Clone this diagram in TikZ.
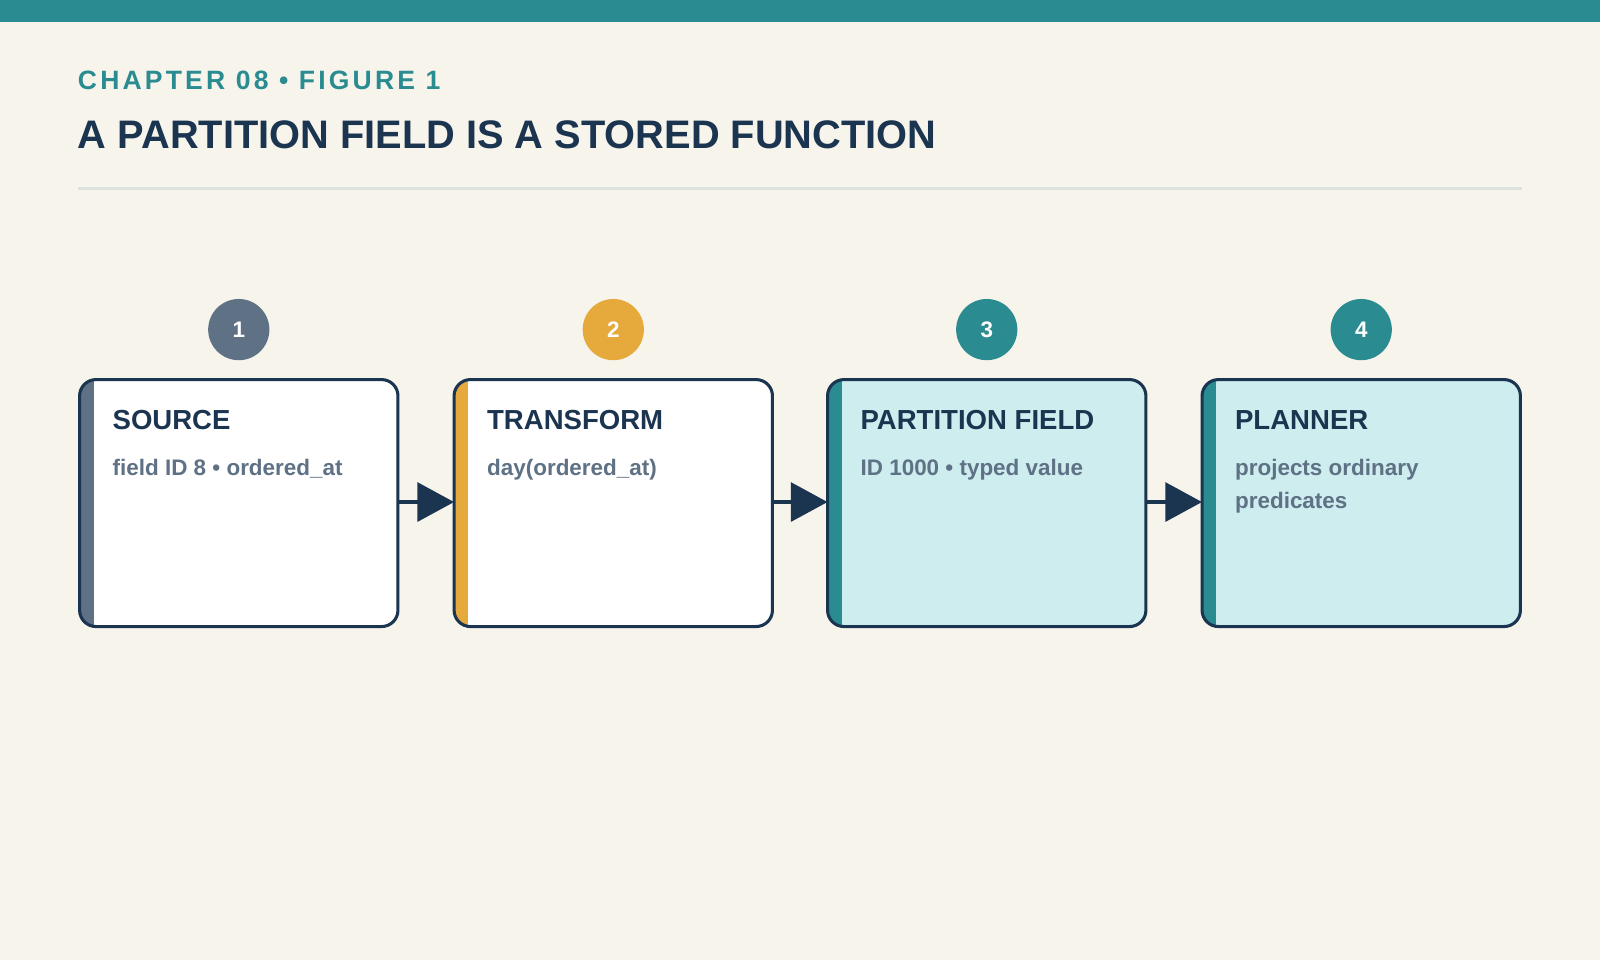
\documentclass[tikz,border=0pt]{standalone}
\usepackage{fontspec}
\setmainfont{Liberation Sans}
\usetikzlibrary{arrows.meta}
\definecolor{bg}{HTML}{F7F4EC}
\definecolor{teal}{HTML}{2A8C91}
\definecolor{navy}{HTML}{1B3550}
\definecolor{slate}{HTML}{5E7185}
\definecolor{amber}{HTML}{E6A93C}
\definecolor{pale}{HTML}{CDEDEF}
\definecolor{rulec}{HTML}{DDE2E0}
\begin{document}
\begin{tikzpicture}[x=0.5pt,y=-0.5pt,
  box/.style={draw=navy,line width=1.5pt,rounded corners=8pt},
  num/.style={circle,minimum size=30pt,inner sep=0pt,text=white,font=\bfseries\fontsize{11}{13}\selectfont},
  ttl/.style={anchor=base west,text=navy,font=\bfseries\fontsize{13.5}{16}\selectfont,inner sep=0pt},
  sub/.style={anchor=north west,text=slate,font=\bfseries\fontsize{11}{16}\selectfont,inner sep=0pt,align=left},
  arr/.style={navy,line width=2pt,-{Triangle[length=18pt,width=19pt]}}]
\fill[bg] (0,0) rectangle (1568,941);
\useasboundingbox (0,0) rectangle (1568,941);
\fill[teal] (0,0) rectangle (1568,22);
\node[anchor=base west,inner sep=0pt,text=teal,font=\bfseries\fontsize{13}{15}\selectfont] (chap) at (76,88) {\addfontfeature{LetterSpace=12}CHAPTER 08 • FIGURE 1};
\node[anchor=base west,inner sep=0pt,text=navy,font=\bfseries\fontsize{19.5}{22}\selectfont] (title) at (76,146) {A PARTITION FIELD IS A STORED FUNCTION};
\draw[rulec,line width=1.5pt] (76,185) -- (1492,185);
\foreach \i/\x/\fc/\ac/\t/\s in {
  1/78/white/slate/SOURCE/{field ID 8 • ordered\_at},
  2/445/white/amber/TRANSFORM/{day(ordered\_at)},
  3/811/pale/teal/PARTITION FIELD/{ID 1000 • typed value},
  4/1178/pale/teal/PLANNER/{projects ordinary\\predicates}}{
  \begin{scope}
    \clip[rounded corners=8pt] (\x,372) rectangle ++(312,242);
    \fill[\fc] (\x,372) rectangle ++(312,242);
    \fill[\ac] (\x,372) rectangle ++(14,242);
  \end{scope}
  \draw[box] (\x,372) rectangle ++(312,242);
  \coordinate (b\i w) at (\x,492);
  \coordinate (b\i e) at ({\x+312},492);
  \node[num,fill=\ac] (n\i) at ({\x+156},323) {\i};
  \node[ttl] (t\i) at ({\x+32},421) {\t};
  \node[sub] (s\i) at ({\x+32},450) {\s};
}
\draw[arr] (b1e) -- (b2w);
\draw[arr] (b2e) -- (b3w);
\draw[arr] (b3e) -- (b4w);
\end{tikzpicture}
\end{document}
